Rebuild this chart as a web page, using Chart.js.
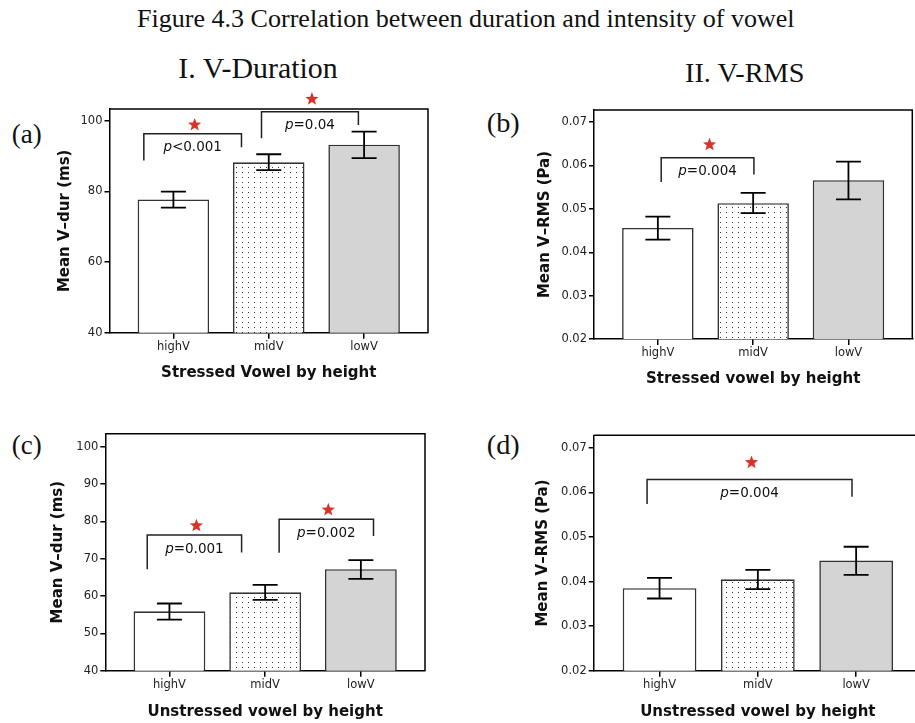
<!DOCTYPE html>
<html><head><meta charset="utf-8">
<script src="https://cdn.jsdelivr.net/npm/chart.js@4"></script>
<style>
html,body{margin:0;padding:0;background:#fff;overflow:hidden;width:915px;height:723px;position:relative}
.t{position:absolute;font-family:"Liberation Serif","DejaVu Serif",serif;color:#111;white-space:nowrap;line-height:1}
canvas{position:absolute}
</style></head><body>
<div class="t" id="mainTitle">Figure 4.3 Correlation between duration and intensity of vowel</div>
<div class="t" id="colTitle1">I. V-Duration</div>
<div class="t" id="colTitle2">II. V-RMS</div>
<div class="t" id="labA">(a)</div>
<div class="t" id="labB">(b)</div>
<div class="t" id="labC">(c)</div>
<div class="t" id="labD">(d)</div>
<script>
// ---------- data ----------
const categories = ['highV', 'midV', 'lowV'];

const durTicks = [40, 60, 80, 100];
const durTicksUnstressed = [40, 50, 60, 70, 80, 90, 100];
const rmsTicks = [0.02, 0.03, 0.04, 0.05, 0.06, 0.07];
const durTickLabels = ['40', '60', '80', '100'];
const durTickLabelsUnstressed = ['40', '50', '60', '70', '80', '90', '100'];
const rmsTickLabels = ['0.02', '0.03', '0.04', '0.05', '0.06', '0.07'];

// (a) stressed duration
const durStressedMean = [77.7, 88.2, 93.2];
const durStressedLow  = [75.4, 86.0, 89.4];
const durStressedHigh = [79.9, 90.5, 96.9];
// (b) stressed RMS
const rmsStressedMean = [0.0456, 0.0513, 0.0566];
const rmsStressedLow  = [0.0429, 0.0490, 0.0522];
const rmsStressedHigh = [0.0482, 0.0537, 0.0609];
// (c) unstressed duration
const durUnstressedMean = [55.9, 61.0, 67.2];
const durUnstressedLow  = [53.7, 59.0, 64.6];
const durUnstressedHigh = [58.0, 63.0, 69.6];
// (d) unstressed RMS
const rmsUnstressedMean = [0.0385, 0.0405, 0.0447];
const rmsUnstressedLow  = [0.0362, 0.0383, 0.0415];
const rmsUnstressedHigh = [0.0408, 0.0426, 0.0478];

// significance brackets (x in category units, y in data units)
const bracketsA = [
  {x1: -0.31, x2: 0.714, top: 96.3, leftEnd: 88.7, rightEnd: 92.5, p: '<0.001', star: 98.8},
  {x1: 0.924, x2: 1.94, top: 102.5, leftEnd: 95.0, rightEnd: 98.8, p: '=0.04', star: 106.1}
];
const bracketsB = [
  {x1: 0.035, x2: 1.008, top: 0.0618, leftEnd: 0.0562, rightEnd: 0.0579, p: '=0.004', star: 0.0648}
];
const bracketsC = [
  {x1: -0.232, x2: 0.754, top: 76.35, leftEnd: 67.2, rightEnd: 71.7, p: '=0.001', star: 78.85},
  {x1: 1.146, x2: 2.132, top: 80.6, leftEnd: 71.6, rightEnd: 76.1, p: '=0.002', star: 83.1}
];
const bracketsD = [
  {x1: -0.127, x2: 1.958, top: 0.0629, leftEnd: 0.0574, rightEnd: 0.0590, p: '=0.004', star: 0.0667}
];

// ---------- text placement ----------
const mctx = document.createElement('canvas').getContext('2d');
function placeText(id, cx, cy, targetW, vf) {
  const el = document.getElementById(id);
  mctx.font = '100px "Liberation Serif"';
  const w100 = mctx.measureText(el.textContent).width;
  const size = 100 * targetW / w100;
  el.style.fontSize = size + 'px';
  el.style.left = (cx - targetW / 2) + 'px';
  el.style.top = (cy - vf * size) + 'px';
}
placeText('mainTitle', 466, 19.5, 658, 0.52);
placeText('colTitle1', 258.3, 68.7, 160, 0.52);
placeText('colTitle2', 745, 73.3, 120, 0.52);
placeText('labA', 26.7, 136.7, 30, 0.58);
placeText('labB', 503.3, 125.5, 33, 0.58);
placeText('labC', 26.7, 447.5, 30, 0.58);
placeText('labD', 503.3, 447.5, 33, 0.58);

// ---------- fills ----------
function dotPattern() {
  const c = document.createElement('canvas');
  c.width = 6; c.height = 5;
  const g = c.getContext('2d');
  g.fillStyle = '#fff'; g.fillRect(0, 0, 6, 5);
  g.fillStyle = '#333'; g.fillRect(2, 2, 1, 1);
  return mctx.createPattern(c, 'repeat');
}
const pat = dotPattern();

function drawStar(ctx, cx, cy, R) {
  const r = R * 0.42;
  ctx.beginPath();
  for (let k = 0; k < 10; k++) {
    const rad = k % 2 === 0 ? R : r;
    const ang = -Math.PI / 2 + k * Math.PI / 5;
    const px = cx + rad * Math.cos(ang), py = cy + rad * Math.sin(ang);
    if (k === 0) ctx.moveTo(px, py); else ctx.lineTo(px, py);
  }
  ctx.closePath();
  ctx.fillStyle = '#d8322a';
  ctx.fill();
}

function makePanel(spec) {
  const cv = document.createElement('canvas');
  cv.width = spec.cw; cv.height = spec.ch;
  cv.style.left = spec.cx + 'px'; cv.style.top = spec.cy + 'px';
  cv.style.width = spec.cw + 'px'; cv.style.height = spec.ch + 'px';
  document.body.appendChild(cv);
  const L = spec.box.l - spec.cx, T = spec.box.t - spec.cy, R = spec.box.r - spec.cx, B = spec.box.b - spec.cy;
  const lh = 18;
  const xAxisH = (spec.xTitleY - spec.cy) - B + lh / 2;
  const padBottom = spec.ch - B - xAxisH;
  const titleFont = {family: 'DejaVu Sans', size: 15, weight: 'bold', lineHeight: 1.2};
  const tickFont = {family: 'DejaVu Sans', size: 11.5};

  const annot = {
    id: 'annot',
    afterDatasetsDraw(chart) {
      const {ctx, chartArea: a, scales: {x, y}} = chart;
      ctx.save();
      // frame
      ctx.strokeStyle = '#000'; ctx.lineWidth = 1.5;
      ctx.beginPath();
      ctx.moveTo(a.left, a.top); ctx.lineTo(a.right, a.top); ctx.lineTo(a.right, a.bottom);
      ctx.stroke();
      // error bars
      ctx.strokeStyle = '#000'; ctx.lineWidth = 1.8;
      spec.low.forEach((lo, i) => {
        const px = x.getPixelForValue(i);
        const y1 = y.getPixelForValue(lo), y2 = y.getPixelForValue(spec.high[i]);
        ctx.beginPath();
        ctx.moveTo(px, y1); ctx.lineTo(px, y2);
        ctx.moveTo(px - 12.5, y1); ctx.lineTo(px + 12.5, y1);
        ctx.moveTo(px - 12.5, y2); ctx.lineTo(px + 12.5, y2);
        ctx.stroke();
      });
      // brackets
      spec.brackets.forEach(b => {
        const x1 = x.getPixelForValue(b.x1), x2 = x.getPixelForValue(b.x2);
        const yt = y.getPixelForValue(b.top);
        ctx.strokeStyle = '#222'; ctx.lineWidth = 1.5;
        ctx.beginPath();
        ctx.moveTo(x1, y.getPixelForValue(b.leftEnd));
        ctx.lineTo(x1, yt); ctx.lineTo(x2, yt);
        ctx.lineTo(x2, y.getPixelForValue(b.rightEnd));
        ctx.stroke();
        const mid = (x1 + x2) / 2;
        // p text
        const fi = 'italic 13.5px "DejaVu Sans"', fr = '13.5px "DejaVu Sans"';
        ctx.font = fi; const wp = ctx.measureText('p').width;
        ctx.font = fr; const wr = ctx.measureText(b.p).width;
        const sx = mid - (wp + wr) / 2, ty = yt + 14;
        ctx.fillStyle = '#111'; ctx.textBaseline = 'middle'; ctx.textAlign = 'left';
        ctx.font = fi; ctx.fillText('p', sx, ty);
        ctx.font = fr; ctx.fillText(b.p, sx + wp, ty);
        drawStar(ctx, mid + 2, y.getPixelForValue(b.star), 7);
      });
      ctx.restore();
    }
  };

  new Chart(cv, {
    type: 'bar',
    data: {
      datasets: [{
        data: spec.means.map((v, i) => ({x: i, y: v})),
        backgroundColor: ['#ffffff', pat, '#d4d4d4'],
        borderColor: '#333333',
        borderWidth: 1.6,
        barPercentage: 0.75,
        categoryPercentage: 1
      }]
    },
    options: {
      responsive: false, animation: false, devicePixelRatio: 1,
      layout: {padding: {left: 0, top: T, right: spec.cw - R, bottom: padBottom}},
      plugins: {legend: {display: false}, tooltip: {enabled: false}},
      scales: {
        x: {
          type: 'linear', min: -0.67, max: 2.67, offset: false,
          afterBuildTicks: s => { s.ticks = categories.map((c, i) => ({value: i})); },
          afterFit: s => { s.height = xAxisH; },
          ticks: {callback: v => categories[Math.round(v)], font: tickFont, color: '#222', padding: 1, maxRotation: 0, autoSkip: false},
          grid: {display: true, drawOnChartArea: false, drawTicks: true, tickLength: 6, color: '#000', lineWidth: 1.5, offset: false},
          border: {display: true, color: '#000', width: 1.5},
          title: {display: true, text: spec.xTitle, font: titleFont, color: '#111', padding: {top: 0, bottom: 0}}
        },
        y: {
          type: 'linear', min: spec.yMin, max: spec.yMax,
          afterBuildTicks: s => { s.ticks = spec.ticks.map(v => ({value: v})); },
          afterFit: s => { s.width = L; },
          ticks: {callback: (v, i) => spec.tickLabels[i], font: tickFont, color: '#222', padding: 2},
          grid: {display: true, drawOnChartArea: false, drawTicks: true, tickLength: 5, color: '#000', lineWidth: 1.5},
          border: {display: true, color: '#000', width: 1.5},
          title: {display: true, text: spec.yTitle, font: titleFont, color: '#111', padding: {top: spec.yTitleX - spec.cx - lh / 2, bottom: 0}}
        }
      }
    },
    plugins: [annot]
  });
}

makePanel({
  cx: 0, cy: 85, cw: 460, ch: 305,
  box: {l: 109.5, t: 109, r: 428, b: 332.7}, yTitleX: 65, xTitleY: 372.7,
  means: durStressedMean, low: durStressedLow, high: durStressedHigh,
  yMin: 40, yMax: 103.3, ticks: durTicks, tickLabels: durTickLabels,
  xTitle: 'Stressed Vowel by height', yTitle: 'Mean V–dur (ms)', brackets: bracketsA
});
makePanel({
  cx: 460, cy: 85, cw: 455, ch: 310,
  box: {l: 594, t: 110, r: 912.3, b: 339}, yTitleX: 545, xTitleY: 379.3,
  means: rmsStressedMean, low: rmsStressedLow, high: rmsStressedHigh,
  yMin: 0.02, yMax: 0.0728, ticks: rmsTicks, tickLabels: rmsTickLabels,
  xTitle: 'Stressed vowel by height', yTitle: 'Mean V–RMS (Pa)', brackets: bracketsB
});
makePanel({
  cx: 0, cy: 395, cw: 460, ch: 328,
  box: {l: 105.3, t: 433.7, r: 425, b: 670.7}, yTitleX: 58.3, xTitleY: 712.3,
  means: durUnstressedMean, low: durUnstressedLow, high: durUnstressedHigh,
  yMin: 40, yMax: 103.5, ticks: durTicksUnstressed, tickLabels: durTickLabelsUnstressed,
  xTitle: 'Unstressed vowel by height', yTitle: 'Mean V–dur (ms)', brackets: bracketsC
});
makePanel({
  cx: 460, cy: 395, cw: 470, ch: 328,
  box: {l: 593.7, t: 435.3, r: 922, b: 670.7}, yTitleX: 543.3, xTitleY: 712.3,
  means: rmsUnstressedMean, low: rmsUnstressedLow, high: rmsUnstressedHigh,
  yMin: 0.02, yMax: 0.0728, ticks: rmsTicks, tickLabels: rmsTickLabels,
  xTitle: 'Unstressed vowel by height', yTitle: 'Mean V–RMS (Pa)', brackets: bracketsD
});
</script>
</body></html>
